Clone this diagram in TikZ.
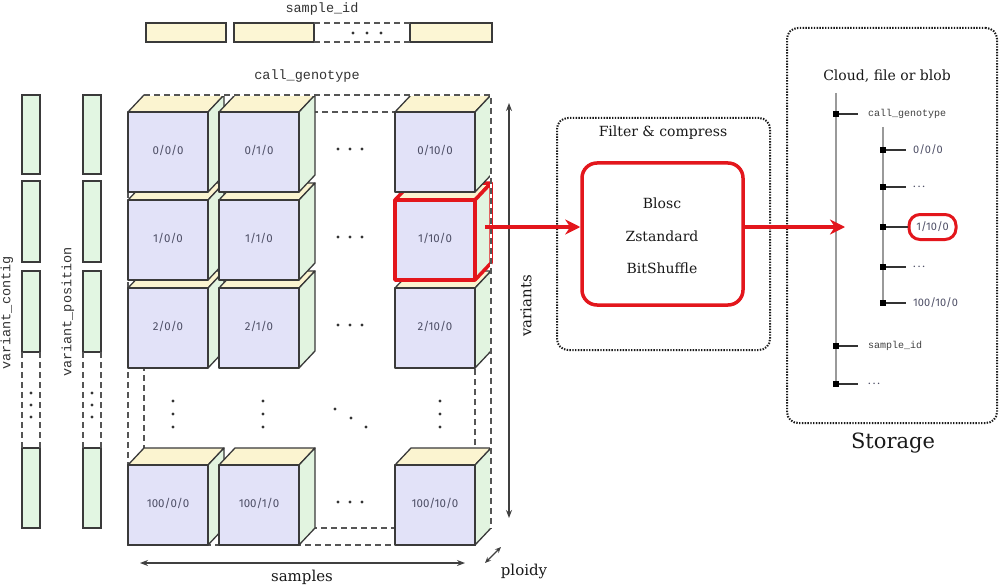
\documentclass[tikz,border=0pt]{standalone}
\usepackage{fontspec}
\setmainfont{DejaVu Serif}
\newfontfamily\monof{Liberation Mono}
\newfontfamily\sansf{Fira Sans}
\usetikzlibrary{arrows.meta,calc}
\definecolor{frontc}{HTML}{E2E2F8}
\definecolor{topc}{HTML}{FBF4D0}
\definecolor{sidec}{HTML}{E2F4E0}
\definecolor{barY}{HTML}{FCF6D4}
\definecolor{barG}{HTML}{E2F6E2}
\definecolor{edgec}{HTML}{3A3A3A}
\definecolor{lblc}{HTML}{4E4F66}
\definecolor{redc}{HTML}{E3161C}
\definecolor{dashc}{HTML}{555555}
\definecolor{treec}{HTML}{9A9A9A}
\newcommand{\gcube}[5][]{%
  \begin{scope}[shift={(#2,#3)}]
    \filldraw[cubeedge,fill=topc,#1] (0,0) -- (16,-17) -- (96,-17) -- (80,0) -- cycle;
    \filldraw[cubeedge,fill=sidec,#1] (80,0) -- (96,-17) -- (96,63) -- (80,80) -- cycle;
    \filldraw[cubeedge,fill=frontc,#1] (0,0) rectangle (80,80);
    \node[cubelbl] (#5) at (40,38) {#4};
  \end{scope}}
\begin{document}
\begin{tikzpicture}[x=1pt,y=-1pt,
  cubeedge/.style={draw=edgec,line width=1.3pt,line join=round},
  cubelbl/.style={font=\sansf\fontsize{11.5}{13}\selectfont,text=lblc,inner sep=0pt},
  gdash/.style={draw=dashc,line width=1.4pt,dash pattern=on 6pt off 4pt},
  bar/.style={draw=edgec,line width=1.3pt},
  monolbl/.style={font=\monof\fontsize{13.5}{15}\selectfont,text=black!80,inner sep=0pt},
  smono/.style={font=\monof\fontsize{10}{12}\selectfont,text=black!75,inner sep=0pt,anchor=west},
  ssans/.style={font=\sansf\fontsize{11}{12}\selectfont,text=lblc,inner sep=0pt,anchor=west},
  serif/.style={font=\fontsize{14}{16}\selectfont,text=black!90,inner sep=0pt},
  axlbl/.style={font=\fontsize{15}{17}\selectfont,text=black!90,inner sep=0pt},
  garrow/.style={draw=black!75,line width=1.2pt,{Stealth[length=8pt,width=6pt]}-{Stealth[length=8pt,width=6pt]}},
  redarrow/.style={draw=redc,line width=3.5pt,-{Stealth[length=15pt,width=15pt]}},
  dotbox/.style={draw=black!90,line width=2pt,dash pattern=on 1.4pt off 1.4pt,rounded corners=11pt,inner sep=0pt},
  redbox/.style={draw=redc,line width=3.5pt,rounded corners=15pt,inner sep=0pt},
  treeline/.style={draw=treec,line width=2pt},
  branch/.style={draw=black!80,line width=1.3pt},
  sq/.style={fill=black,rectangle,minimum size=6.5pt,inner sep=0pt}]
\useasboundingbox (0,0) rectangle (1000,588);
\fill[white] (0,0) rectangle (1000,588);

% ---------- sample_id bar ----------
\node[monolbl] (sidl) at (322,9) {sample\_id};
\filldraw[bar,fill=barY] (146,23) rectangle (226,42);
\filldraw[bar,fill=barY] (234,23) rectangle (314,42);
\filldraw[bar,fill=barY] (410,23) rectangle (492,42);
\draw[gdash] (314,23) -- (410,23) (314,42) -- (410,42);
\foreach \x in {353,367,381} \fill[black!80] (\x,33) circle (1.6);

% ---------- variant bars ----------
\foreach \bx in {22,83}{
  \foreach \ya/\yb in {95/174,181/262,271/352,448/528}
    \filldraw[bar,fill=barG] (\bx,\ya) rectangle (\bx+18,\yb);
  \draw[gdash] (\bx,352) -- (\bx,448) (\bx+18,352) -- (\bx+18,448);
  \foreach \y in {393,405,417} \fill[black!80] (\bx+9,\y) circle (1.6);
}
\node[monolbl,rotate=90] (vcl) at (7,313) {variant\_contig};
\node[monolbl,rotate=90] (vpl) at (68,312) {variant\_position};

% ---------- call_genotype grid ----------
\node[monolbl] (cgl) at (307,76) {call\_genotype};
\draw[gdash] (128,112) rectangle (475,545);
\draw[gdash] (144,95) rectangle (491,528);

\gcube{128}{465}{100/0/0}{c40}
\gcube{219}{465}{100/1/0}{c41}
\gcube{395}{465}{100/10/0}{c42}
\gcube{128}{288}{2/0/0}{c30}
\gcube{219}{288}{2/1/0}{c31}
\gcube{395}{288}{2/10/0}{c32}
\gcube{128}{200}{1/0/0}{c20}
\gcube{219}{200}{1/1/0}{c21}
\gcube[draw=redc,line width=3.5pt]{395}{200}{1/10/0}{c22}
\gcube{128}{112}{0/0/0}{c10}
\gcube{219}{112}{0/1/0}{c11}
\gcube{395}{112}{0/10/0}{c12}

\draw[white,line width=1.4pt] (144,95) -- (491,95) -- (491,528);
\draw[gdash] (144,95) -- (491,95) -- (491,528);

% dots
\foreach \y in {149,237,325,502}
  \foreach \x in {338,350,362} \fill[black!80] (\x,\y) circle (1.6);
\foreach \x in {173,263,440}
  \foreach \y in {401,414,427} \fill[black!80] (\x,\y) circle (1.6);
\fill[black!80] (335,409) circle (1.6) (351,418) circle (1.6) (366,427) circle (1.6);

% axes
\coordinate (va1) at (509,103);
\coordinate (va2) at (509,518);
\draw[garrow] (va1) -- (va2);
\node[axlbl,rotate=90] (val) at (526,306) {variants};
\coordinate (sa1) at (140,563);
\coordinate (sa2) at (465,563);
\draw[garrow] (sa1) -- (sa2);
\node[axlbl] (sal) at (302,577) {samples};
\coordinate (pa1) at (485,563);
\coordinate (pa2) at (501,547);
\draw[draw=black!75,line width=1.2pt,{Stealth[length=6pt,width=5pt]}-{Stealth[length=6pt,width=5pt]}] (pa1) -- (pa2);
\node[axlbl] (pll) at (524,571) {ploidy};

% ---------- filter & compress ----------
\node[dotbox,minimum width=213pt,minimum height=232pt] (fc) at (663.5,234) {};
\node[serif] (fcl) at (663,133) {Filter \& compress};
\node[redbox,minimum width=161pt,minimum height=142pt] (fbox) at (662.5,234) {};
\node[serif] (b1) at (662,203) {Blosc};
\node[serif] (b2) at (662,236) {Zstandard};
\node[serif] (b3) at (662,268) {BitShuffle};

% ---------- storage ----------
\node[dotbox,minimum width=210pt,minimum height=395pt] (stb) at (892,225.5) {};
\node[serif] (cfl) at (887,76) {Cloud, file or blob};
\node[font=\fontsize{21}{25}\selectfont,text=black!90,inner sep=0pt] (stl) at (893,443) {Storage};

\coordinate (m0) at (836,93);
\node[sq] (t1) at (836,114) {};
\node[sq] (t2) at (836,346) {};
\node[sq] (t3) at (836,384) {};
\draw[treeline] (m0) -- (t3.center);
\coordinate (s0) at (883,127);
\node[sq] (s1) at (883,150) {};
\node[sq] (s2) at (883,187) {};
\node[sq] (s3) at (883,227) {};
\node[sq] (s4) at (883,267) {};
\node[sq] (s5) at (883,303) {};
\draw[treeline] (s0) -- (s5.center);
\foreach \n in {t1,t2,t3,s1,s2,s3,s4,s5} \node[sq] at (\n) {};

\node[smono] (lt1) at (868,114) {call\_genotype};
\node[smono] (lt2) at (868,346) {sample\_id};
\node[ssans] (lt3) at (868,384) {.\kern2pt.\kern2pt.};
\node[ssans] (ls1) at (913,150) {0/0/0};
\node[ssans] (ls2) at (913,187) {.\kern2pt.\kern2pt.};
\node[draw=redc,line width=3pt,rounded corners=11pt,minimum width=47pt,minimum height=25pt,inner sep=0pt,font=\sansf\fontsize{11}{12}\selectfont,text=lblc] (ls3) at (932.5,227) {1/10/0};
\node[ssans] (ls4) at (913,267) {.\kern2pt.\kern2pt.};
\node[ssans] (ls5) at (913,303) {100/10/0};
\foreach \a/\b in {t1/lt1,t2/lt2,t3/lt3}
  \draw[branch] (\a.east) -- ([xshift=-10pt]\b.west);
\foreach \a/\b in {s1/ls1,s2/ls2,s4/ls4,s5/ls5}
  \draw[branch] (\a.east) -- ([xshift=-7pt]\b.west);
\draw[branch] (s3.east) -- (ls3.west);

% ---------- red arrows ----------
\coordinate (rs) at (485,227);
\coordinate (st) at (845,227);
\draw[redarrow] (rs) -- (rs -| fbox.west);
\draw[redarrow] (rs -| fbox.east) -- (st);
\end{tikzpicture}
\end{document}
